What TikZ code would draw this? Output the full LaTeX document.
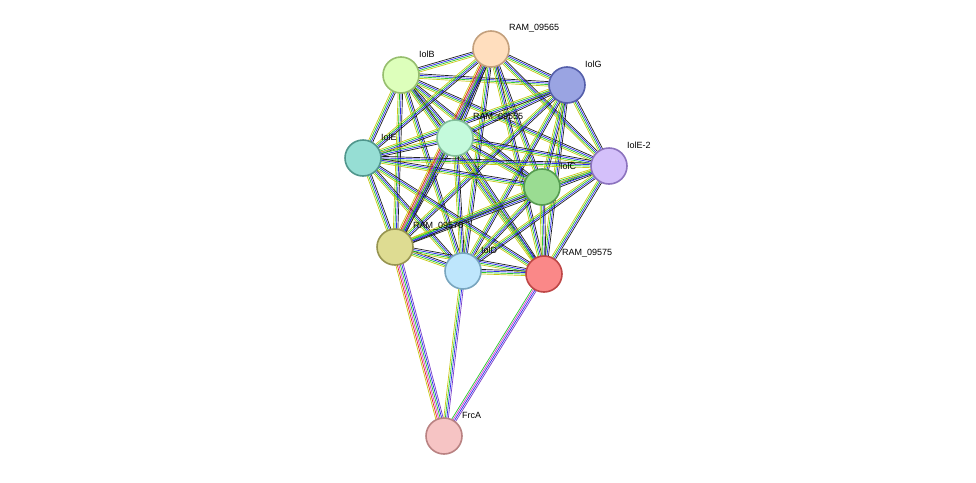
\documentclass[tikz,border=0pt]{standalone}
\usepackage{fontspec}
\setmainfont{Liberation Sans}
\usetikzlibrary{calc}
\definecolor{ecgreen}{RGB}{40,200,40}
\definecolor{ecblue}{RGB}{40,40,240}
\definecolor{ecblack}{RGB}{30,30,30}
\definecolor{ecyellow}{RGB}{200,200,20}
\definecolor{ecpink}{RGB}{210,60,210}
\definecolor{ecred}{RGB}{230,40,40}
\definecolor{ecpurple}{RGB}{120,60,200}
\tikzset{
  edge/.style={line width=0.7pt},
  prot/.style={circle,minimum size=36pt,inner sep=0pt,line width=1.6pt},
  lbl/.style={anchor=west,font=\fontsize{9}{10}\selectfont,inner sep=0pt}
}
% parallel strands between two points
\newcommand\lnk[4]{%
  \foreach \c [count=\k] in {#3}{%
    \pgfmathsetmacro\off{(\k-#4)*1.5}%
    \draw[\c,edge] ($(#1)!\off pt!90:(#2)$) -- ($(#2)!\off pt!-90:(#1)$);}}
\begin{document}
\begin{tikzpicture}[x=1pt,y=-1pt]
\useasboundingbox (0,0) rectangle (976,482);

\coordinate (p1) at (401,75);
\coordinate (p2) at (491,49);
\coordinate (p3) at (567,85);
\coordinate (p4) at (455,138);
\coordinate (p5) at (363,158);
\coordinate (p6) at (609,166);
\coordinate (p7) at (542,187);
\coordinate (p8) at (395,247);
\coordinate (p9) at (463,271);
\coordinate (p10) at (544,274);
\coordinate (p11) at (444,436);

% core cluster
\foreach \i in {1,...,10}{
  \foreach \j in {1,...,10}{
    \ifnum\j>\i
      \lnk{p\i}{p\j}{ecyellow,ecgreen,ecblue,ecblack}{2.5}
    \fi
  }}
\lnk{p2}{p8}{ecyellow,ecred,ecpink,ecgreen,ecblue,ecblack}{3.5}
\lnk{p8}{p11}{ecyellow,ecred,ecpink,ecgreen,ecblue,ecpurple}{3.5}
\lnk{p9}{p11}{ecyellow,ecgreen,ecblue,ecpurple}{2.5}
\lnk{p10}{p11}{ecgreen,ecpink,ecblue,ecpurple}{2.5}

\node[prot,fill={rgb,255:red,221;green,255;blue,187},draw={rgb,255:red,150;green,190;blue,110}] (iolb) at (p1) {};
\node[prot,fill={rgb,255:red,255;green,222;blue,190},draw={rgb,255:red,195;green,160;blue,125}] (ram65) at (p2) {};
\node[prot,fill={rgb,255:red,154;green,164;blue,226},draw={rgb,255:red,85;green,95;blue,170}] (iolg) at (p3) {};
\node[prot,fill={rgb,255:red,196;green,250;blue,220},draw={rgb,255:red,130;green,190;blue,155}] (ram55) at (p4) {};
\node[prot,fill={rgb,255:red,150;green,222;blue,212},draw={rgb,255:red,80;green,150;blue,140}] (iole) at (p5) {};
\node[prot,fill={rgb,255:red,212;green,192;blue,250},draw={rgb,255:red,140;green,115;blue,190}] (iole2) at (p6) {};
\node[prot,fill={rgb,255:red,154;green,220;blue,146},draw={rgb,255:red,85;green,155;blue,80}] (iolc) at (p7) {};
\node[prot,fill={rgb,255:red,222;green,220;blue,146},draw={rgb,255:red,150;green,148;blue,80}] (ram70) at (p8) {};
\node[prot,fill={rgb,255:red,190;green,230;blue,252},draw={rgb,255:red,120;green,165;blue,190}] (iold) at (p9) {};
\node[prot,fill={rgb,255:red,250;green,136;blue,136},draw={rgb,255:red,190;green,70;blue,70}] (ram75) at (p10) {};
\node[prot,fill={rgb,255:red,246;green,196;blue,196},draw={rgb,255:red,185;green,130;blue,130}] (frca) at (p11) {};

\node[lbl] at ($(iolb)+(18,-21)$) {IolB};
\node[lbl] at ($(ram65)+(18,-21)$) {RAM\_09565};
\node[lbl] at ($(iolg)+(18,-21)$) {IolG};
\node[lbl] at ($(ram55)+(18,-21)$) {RAM\_09555};
\node[lbl] at ($(iole)+(18,-21)$) {IolE};
\node[lbl] at ($(iole2)+(18,-21)$) {IolE-2};
\node[lbl] at ($(iolc)+(18,-21)$) {IolC};
\node[lbl] at ($(ram70)+(18,-21)$) {RAM\_09570};
\node[lbl] at ($(iold)+(18,-21)$) {IolD};
\node[lbl] at ($(ram75)+(18,-21)$) {RAM\_09575};
\node[lbl] at ($(frca)+(18,-21)$) {FrcA};
\end{tikzpicture}
\end{document}
